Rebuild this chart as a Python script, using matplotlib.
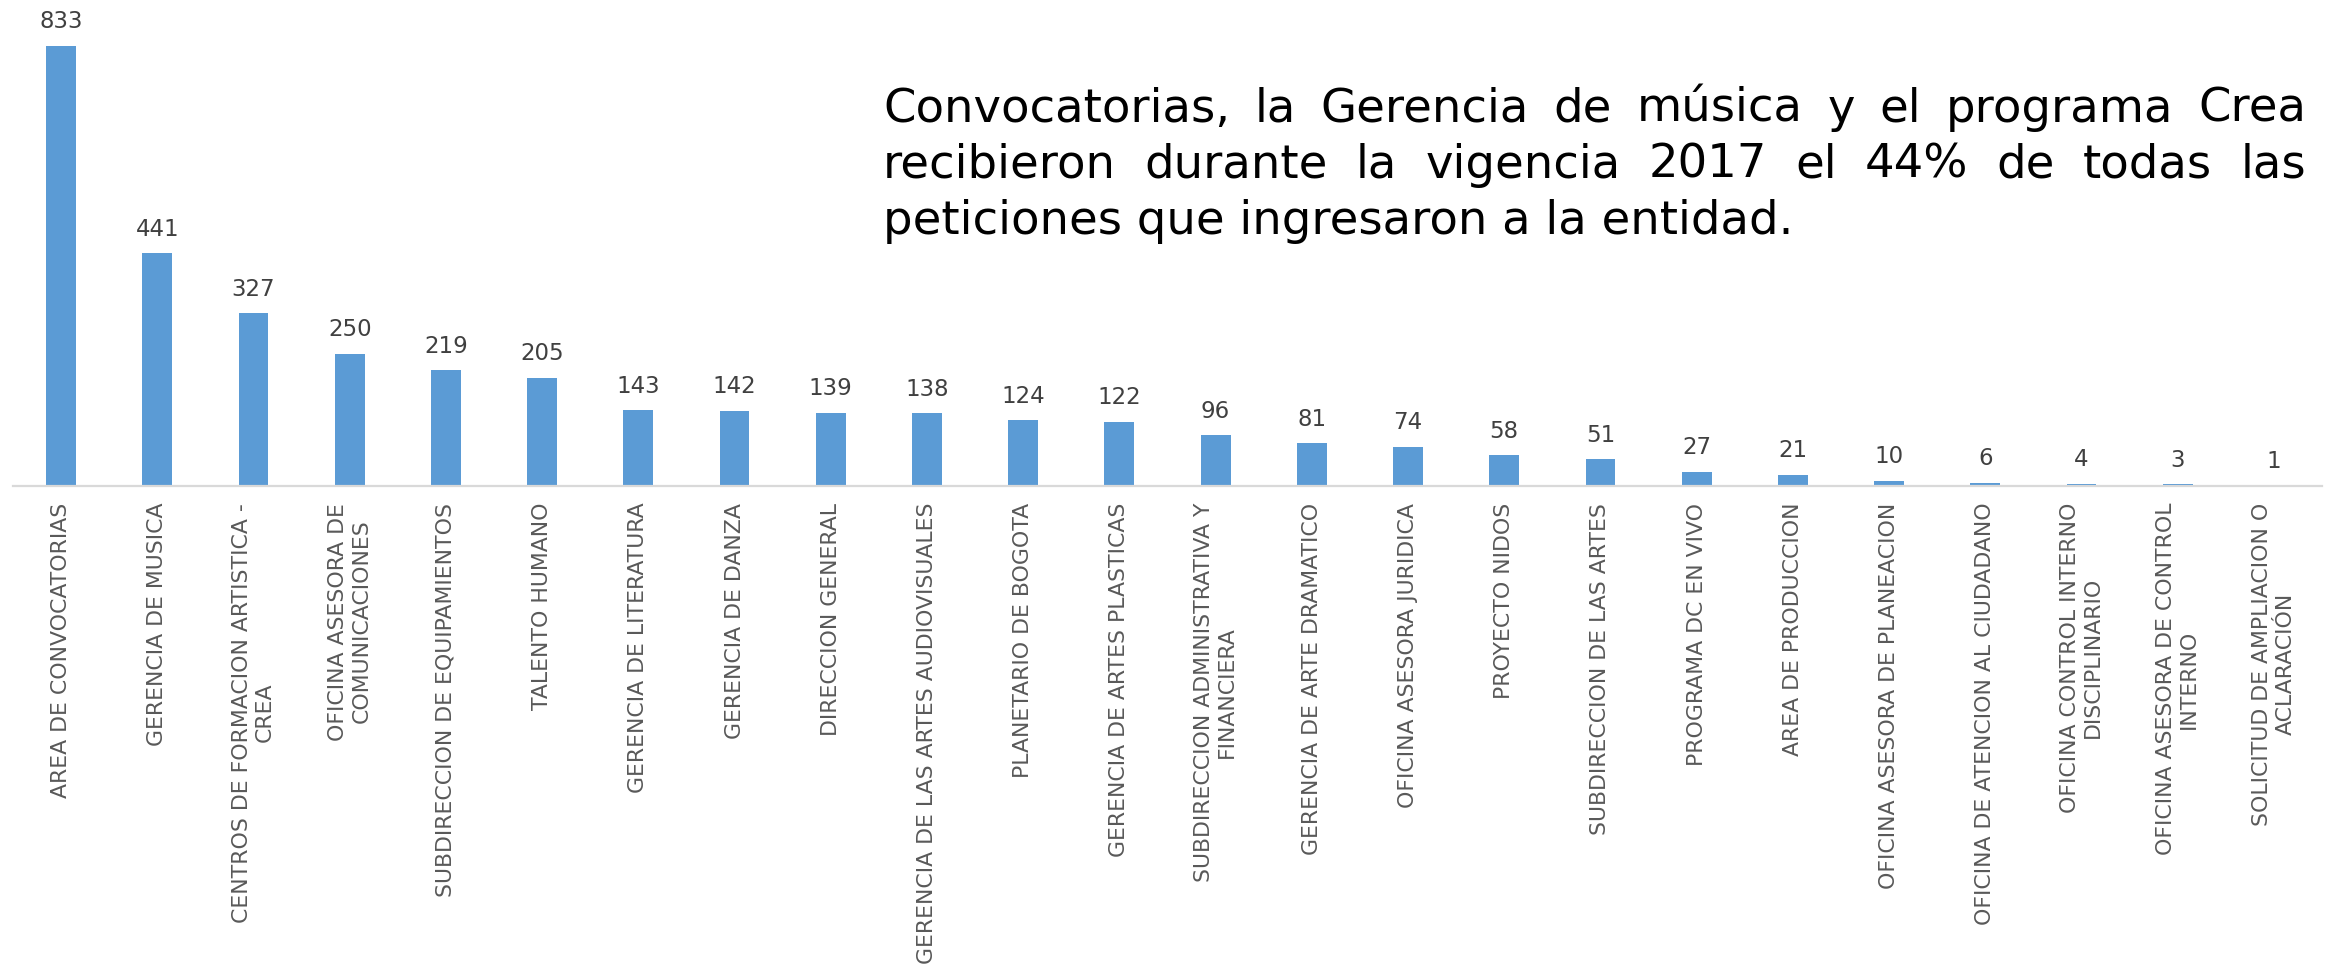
import matplotlib
matplotlib.use("Agg")
import matplotlib.pyplot as plt
import numpy as np

# Peticiones por dependencia, vigencia 2017
dependencias = [
    "AREA DE CONVOCATORIAS",
    "GERENCIA DE MUSICA",
    "CENTROS DE FORMACION ARTISTICA -\nCREA",
    "OFICINA ASESORA DE\nCOMUNICACIONES",
    "SUBDIRECCION DE EQUIPAMIENTOS",
    "TALENTO HUMANO",
    "GERENCIA DE LITERATURA",
    "GERENCIA DE DANZA",
    "DIRECCION GENERAL",
    "GERENCIA DE LAS ARTES AUDIOVISUALES",
    "PLANETARIO DE BOGOTA",
    "GERENCIA DE ARTES PLASTICAS",
    "SUBDIRECCION ADMINISTRATIVA Y\nFINANCIERA",
    "GERENCIA DE ARTE DRAMATICO",
    "OFICINA ASESORA JURIDICA",
    "PROYECTO NIDOS",
    "SUBDIRECCION DE LAS ARTES",
    "PROGRAMA DC EN VIVO",
    "AREA DE PRODUCCION",
    "OFICINA ASESORA DE PLANEACION",
    "OFICINA DE ATENCION AL CIUDADANO",
    "OFICINA CONTROL INTERNO\nDISCIPLINARIO",
    "OFICINA ASESORA DE CONTROL\nINTERNO",
    "SOLICITUD DE AMPLIACION O\nACLARACIÓN",
]
peticiones = [833, 441, 327, 250, 219, 205, 143, 142, 139, 138, 124, 122,
              96, 81, 74, 58, 51, 27, 21, 10, 6, 4, 3, 1]

texto = [
    "Convocatorias, la Gerencia de música y el programa Crea",
    "recibieron durante la vigencia 2017 el 44% de todas las",
    "peticiones que ingresaron a la entidad.",
]

W, H = 2328, 973
plt.rcParams["font.family"] = ["DejaVu Sans"]

fig = plt.figure(figsize=(W / 100, H / 100), dpi=100)
ax = fig.add_axes([13 / W, 1 - 486 / H, (2322 - 13) / W, 486 / H])

x = np.arange(len(peticiones))
bars = ax.bar(x, peticiones, width=0.31, color="#5B9BD5")
ax.bar_label(bars, labels=[str(v) for v in peticiones], padding=9,
             fontsize=16.5, color="#404040")

ax.set_xlim(-0.5, len(peticiones) - 0.5)
ax.set_ylim(0, 920)
ax.set_xticks(x)
ax.set_xticklabels(dependencias, rotation=90, fontsize=15.8, color="#595959",
                   ha="center", va="top", multialignment="center")
ax.tick_params(axis="x", length=0, pad=12)
ax.set_yticks([])
for side in ["top", "right", "left"]:
    ax.spines[side].set_visible(False)
ax.spines["bottom"].set_color("#D9D9D9")
ax.spines["bottom"].set_linewidth(1.6)

# texto justificado a la derecha del grafico
renderer = fig.canvas.get_renderer()
x0, x1 = 883, 2306
baselines = [122, 178, 234]
fs = 33.5
for i, linea in enumerate(texto):
    y = 1 - baselines[i] / H
    if i == len(texto) - 1:
        fig.text(x0 / W, y, linea, fontsize=fs, va="baseline", color="black")
        continue
    palabras = linea.split(" ")
    objs = [fig.text(0, y, p, fontsize=fs, va="baseline", color="black") for p in palabras]
    anchos = [t.get_window_extent(renderer).width for t in objs]
    gap = ((x1 - x0) - sum(anchos)) / (len(palabras) - 1)
    pos = x0
    for t, w in zip(objs, anchos):
        t.set_x(pos / W)
        pos += w + gap

fig.savefig("out.png", dpi=100)
